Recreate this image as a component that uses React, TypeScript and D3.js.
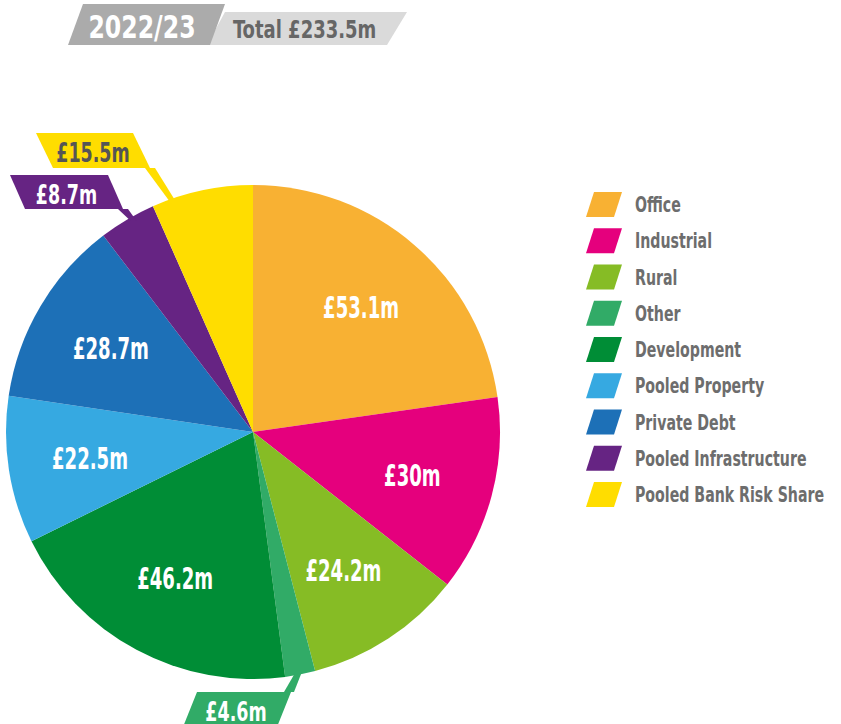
import React from "react";
import * as d3 from "d3";

// 2022/23 allocation, £m
const categories = [
  "Office",
  "Industrial",
  "Rural",
  "Other",
  "Development",
  "Pooled Property",
  "Private Debt",
  "Pooled Infrastructure",
  "Pooled Bank Risk Share",
];
const values = [53.1, 30, 24.2, 4.6, 46.2, 22.5, 28.7, 8.7, 15.5];
const colors = [
  "#f8b133",
  "#e5007d",
  "#86bc25",
  "#31ab67",
  "#008d36",
  "#36a9e1",
  "#1d70b7",
  "#662483",
  "#ffdd00",
];
const yearLabel = "2022/23";

// small slices get a flag label outside the pie
const callouts = [
  { cat: "Pooled Bank Risk Share", x: 36, y: 133, w: 97, h: 35, skew: 17, lx: 150, ly: 168, frac: 0.2, text: "#555" },
  { cat: "Pooled Infrastructure", x: 10, y: 175, w: 98, h: 34, skew: 15, lx: 123, ly: 209, frac: 0.58, text: "#fff" },
  { cat: "Other", x: 197, y: 692, w: 94, h: 40, skew: -16, lx: 289, ly: 692, frac: 0.5, text: "#fff" },
];

const W = 841;
const H = 724;
const cx = 253;
const cy = 432;
const R = 247;
const FONT = "'DejaVu Sans Condensed', 'DejaVu Sans', sans-serif";

const fmt = (v: number) => `£${d3.format("~")(v)}m`;

// the original face is a very narrow gothic, so squeeze the text horizontally
const SText = ({ x, y, sx, anchor = "start", fill, size, children }: any) => (
  <text
    transform={`translate(${x},${y}) scale(${sx},1)`}
    textAnchor={anchor}
    fill={fill}
    fontSize={size}
  >
    {children}
  </text>
);

const App = () => {
  const arcs = d3.pie<number>().sort(null).value((d) => d)(values);
  const arc = d3.arc<d3.PieArcDatum<number>>().innerRadius(0).outerRadius(R);
  const labelArc = d3.arc<d3.PieArcDatum<number>>().innerRadius(165).outerRadius(165);
  const total = d3.sum(values);
  const outside = new Set(callouts.map((c) => c.cat));

  const legendY = d3.scalePoint<string>().domain(categories).range([192, 482]);

  return (
    <svg
      width={W}
      height={H}
      style={{ position: "absolute", left: 0, top: 0, fontFamily: FONT, fontWeight: 700, fontStretch: "condensed" }}
    >
      {/* header tabs */}
      <polygon points="225,12 407,12 387,45 207,45" fill="#dadada" />
      <polygon points="83,4 225,4 210,45 68,45" fill="#ababab" />
      <SText x={142} y={38} sx={0.82} anchor="middle" fill="#fff" size={32}>
        {yearLabel}
      </SText>
      <SText x={233} y={38} sx={0.8} fill="#666" size={25}>
        {`Total £${d3.format(".1f")(total)}m`}
      </SText>

      <g transform={`translate(${cx},${cy})`}>
        {arcs.map((a, i) => (
          <path key={categories[i]} d={arc(a) || ""} fill={colors[i]} />
        ))}
        {arcs.map((a, i) => {
          if (outside.has(categories[i])) return null;
          const [x, y] = labelArc.centroid(a);
          return (
            <SText key={"l" + i} x={x} y={y + 11} sx={0.67} anchor="middle" fill="#fff" size={30}>
              {fmt(values[i])}
            </SText>
          );
        })}
      </g>

      {callouts.map((c) => {
        const i = categories.indexOf(c.cat);
        const a = arcs[i];
        const ang = a.startAngle + c.frac * (a.endAngle - a.startAngle);
        const ax = cx + (R - 4) * Math.sin(ang);
        const ay = cy - (R - 4) * Math.cos(ang);
        const box = [
          [c.x, c.y],
          [c.x + c.w, c.y],
          [c.x + c.w + c.skew, c.y + c.h],
          [c.x + c.skew, c.y + c.h],
        ];
        const lead = [
          [c.lx - 5, c.ly],
          [c.lx + 5, c.ly],
          [ax + 3, ay],
          [ax - 3, ay],
        ];
        return (
          <g key={c.cat}>
            <polygon points={lead.join(" ")} fill={colors[i]} />
            <polygon points={box.join(" ")} fill={colors[i]} />
            <SText
              x={c.x + c.w / 2 + c.skew / 2}
              y={c.y + 29}
              sx={0.72}
              anchor="middle"
              fill={c.text}
              size={27}
            >
              {fmt(values[i])}
            </SText>
          </g>
        );
      })}

      {/* legend */}
      {categories.map((cat, i) => {
        const y = legendY(cat) || 0;
        return (
          <g key={"lg" + cat}>
            <polygon
              points={`594,${y} 622,${y} 614,${y + 25} 586,${y + 25}`}
              fill={colors[i]}
            />
            <SText x={635} y={y + 20} sx={0.75} fill="#6d6d6d" size={21}>
              {cat}
            </SText>
          </g>
        );
      })}
    </svg>
  );
};

export default App;
